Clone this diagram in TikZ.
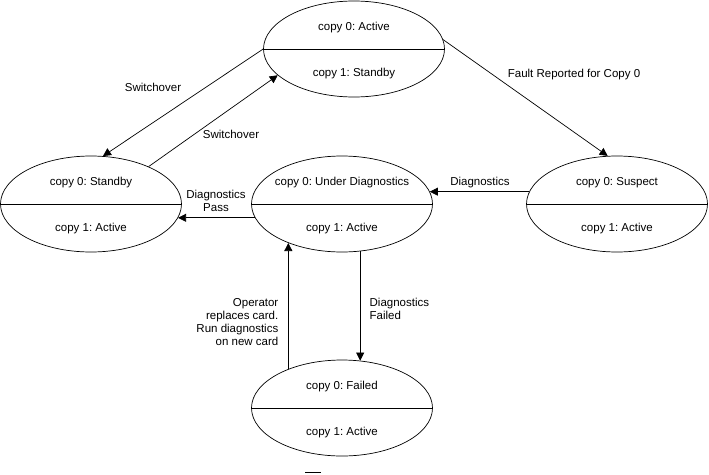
\documentclass[tikz,border=0pt]{standalone}
\usepackage{fontspec}
\setmainfont{Liberation Sans}
\usetikzlibrary{shapes.geometric, arrows.meta}
\frenchspacing

\begin{document}
\begin{tikzpicture}[x=1pt, y=-1pt, line width=0.7pt, font=\fontsize{11.5}{13}\selectfont]
	\tikzset	{
		pics/twocopy/.style 2 args={
			code={
				\node[draw, ellipse, minimum width=181pt, minimum height=96pt, inner sep=0pt] (-e) at (0,0) {};
				\draw		(-e.west) -- (-e.east);
				\node[]	(-a)	at (0,-21)	{#1};
				\node[]	(-b)	at (0,25)	{#2};
			}
		},
		arr/.style={-{Triangle[length=8pt, width=8pt]}},
	}
	\useasboundingbox (0,0) rectangle (709,474);

	\pic (act)	at (354,49)	{twocopy={copy 0: Active}{copy 1: Standby}};
	\pic (stb)	at (91,204)	{twocopy={copy 0: Standby}{copy 1: Active}};
	\pic (dia)	at (342,204)	{twocopy={copy 0: Under Diagnostics}{copy 1: Active}};
	\pic (sus)	at (617,204)	{twocopy={copy 0: Suspect}{copy 1: Active}};
	\pic (fail)	at (342,408)	{twocopy={copy 0: Failed}{copy 1: Active}};

	% switchover both ways
	\draw[arr]	(act-e.west) -- (stb-e.76);
	\draw[arr]	(stb-e.33) -- (act-e.199);
	\node[]	(sw1)	at (153,87)	{Switchover};
	\node[]	(sw2)	at (231,134)	{Switchover};

	% fault
	\draw[arr]	(act-e.6) -- (sus-e.101);
	\node[]	(flt)	at (574,75)	{Fault Reported for Copy 0};

	% diagnostics
	\draw[arr]	(sus-e.172) -- (dia-e.8);
	\node[]	(dg)	at (480,183)	{Diagnostics};
	\draw[arr]	(dia-e.189) -- (stb-e.-9);
	\node[align=center]	(pass)	at (216,201)	{Diagnostics\\Pass};
	\draw[arr]	(dia-e.-69) -- (fail-e.69);
	\node[align=left, anchor=west]	(dfl)	at (366,309)	{Diagnostics\\Failed};
	\draw[arr]	(fail-e.144) -- (dia-e.216);
	\node[align=right, anchor=east]	(op)	at (282,322)	{Operator\\replaces card.\\Run diagnostics\\on new card};

	\draw[line width=1pt]	(305,472) -- (321,472);
\end{tikzpicture}
\end{document}
